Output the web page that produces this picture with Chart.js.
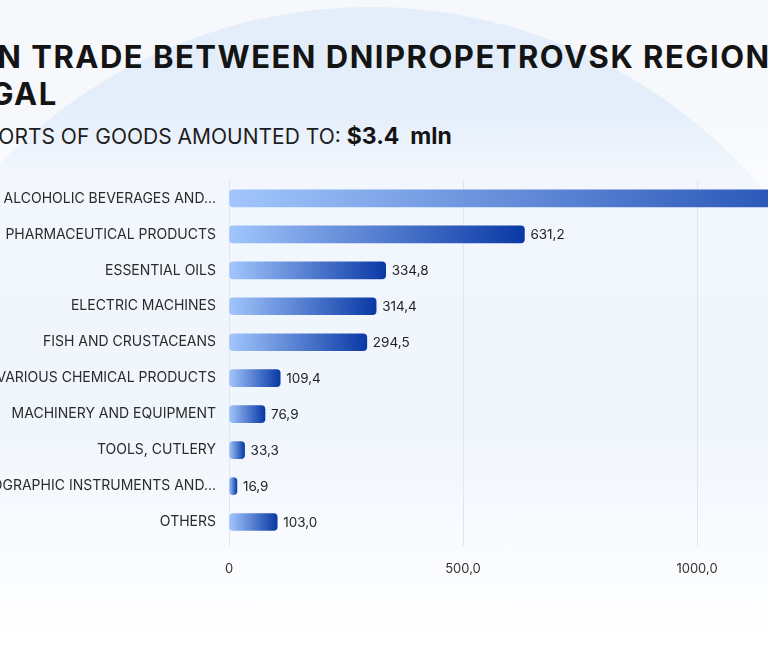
<!DOCTYPE html>
<html>
<head>
<meta charset="utf-8">
<title>Foreign trade between Dnipropetrovsk region and Portugal</title>
<script src="https://cdn.jsdelivr.net/npm/chart.js@4.4.0/dist/chart.umd.min.js"></script>
<style>
    html, body {
        margin: 0;
        padding: 0;
        width: 768px;
        height: 667px;
        overflow: hidden;
        background: #f6f8fc;
        font-family: 'Inter', 'Noto Sans', sans-serif;
    }
    .bg-circle {
        position: absolute;
        left: -145px;
        top: 7px;
        width: 1030px;
        height: 1030px;
        border-radius: 50%;
        background: #e4eefb;
    }
    .bg-fade {
        position: absolute;
        left: 0;
        top: 0;
        width: 768px;
        height: 667px;
        background: linear-gradient(to bottom,
            rgba(255, 255, 255, 0) 110px,
            rgba(255, 255, 255, 0.55) 175px,
            rgba(255, 255, 255, 0.45) 420px,
            rgba(255, 255, 255, 1) 640px);
    }
    h1 {
        position: absolute;
        left: -125px;
        top: 38px;
        margin: 0;
        font-size: 31px;
        line-height: 37px;
        letter-spacing: 1.5px;
        font-weight: 700;
        color: #141414;
        white-space: nowrap;
    }
    h1 span { display: block; }
    .sub {
        position: absolute;
        left: -42px;
        top: 123px;
        margin: 0;
        font-size: 21px;
        line-height: 1.21;
        font-weight: 400;
        color: #1e1e1e;
        white-space: pre;
    }
    .sub b { font-size: 23px; font-weight: 700; color: #141414; }
    .chart-box {
        position: absolute;
        left: -200px;
        top: 159px;
        width: 1171px;
        height: 421px;
    }
</style>
</head>
<body>
<div class="bg-circle"></div>
<div class="bg-fade"></div>
<h1><span>FOREIGN TRADE BETWEEN DNIPROPETROVSK REGION AND</span><span>PORTUGAL</span></h1>
<p class="sub">EXPORTS OF GOODS AMOUNTED TO: <b>$3.4  mln</b></p>
<div class="chart-box"><canvas id="exports"></canvas></div>

<script>
// Exports of goods, thousand USD
const categories = [
    'ALCOHOLIC BEVERAGES AND...',
    'PHARMACEUTICAL PRODUCTS',
    'ESSENTIAL OILS',
    'ELECTRIC MACHINES',
    'FISH AND CRUSTACEANS',
    'VARIOUS CHEMICAL PRODUCTS',
    'MACHINERY AND EQUIPMENT',
    'TOOLS, CUTLERY',
    'PHOTOGRAPHIC INSTRUMENTS AND...',
    'OTHERS'
];
// first value is not visible in the picture, estimated from the $3.4 mln total
const exportValues = [1485.6, 631.2, 334.8, 314.4, 294.5, 109.4, 76.9, 33.3, 16.9, 103.0];
const axisTicks = [0, 500, 1000, 1500];

const fmt = v => v === 0 ? '0' : v.toFixed(1).replace('.', ',');

// each bar gets its own light -> dark gradient along its length
function barGradient(context) {
    const chart = context.chart;
    if (!chart.chartArea || !chart.scales.x) return '#4d7fe0';
    const x0 = chart.scales.x.getPixelForValue(0);
    const x1 = chart.scales.x.getPixelForValue(context.raw);
    const g = chart.ctx.createLinearGradient(x0, 0, Math.max(x1, x0 + 1), 0);
    g.addColorStop(0, '#a2c6fc');
    g.addColorStop(1, '#0a39a6');
    return g;
}

const valueLabels = {
    id: 'valueLabels',
    afterDatasetsDraw(chart) {
        const ctx = chart.ctx;
        const meta = chart.getDatasetMeta(0);
        ctx.save();
        ctx.font = "13.5px 'Inter', sans-serif";
        ctx.fillStyle = '#1f1f1f';
        ctx.textBaseline = 'middle';
        ctx.textAlign = 'left';
        meta.data.forEach((bar, i) => {
            ctx.fillText(fmt(exportValues[i]), bar.x + 6, bar.y + 1);
        });
        ctx.restore();
    }
};

new Chart(document.getElementById('exports'), {
    type: 'bar',
    data: {
        labels: categories,
        datasets: [{
            data: exportValues,
            backgroundColor: barGradient,
            borderRadius: 4,
            borderSkipped: false,
            barThickness: 17
        }]
    },
    options: {
        indexAxis: 'y',
        responsive: true,
        maintainAspectRatio: false,
        animation: false,
        layout: { padding: { top: 9, right: 40, bottom: 0, left: 0 } },
        plugins: {
            legend: { display: false },
            tooltip: { enabled: false }
        },
        scales: {
            x: {
                min: axisTicks[0],
                max: axisTicks[axisTicks.length - 1],
                afterBuildTicks: scale => {
                    scale.ticks = axisTicks.map(v => ({ value: v }));
                },
                afterFit: scale => { scale.height = 40; },
                grid: {
                    color: '#e1e6ee',
                    lineWidth: 1,
                    drawTicks: true,
                    tickLength: 6
                },
                border: { display: false },
                ticks: {
                    padding: 15,
                    color: '#333333',
                    font: { size: 13, family: "'Inter', sans-serif" },
                    callback: v => fmt(v)
                }
            },
            y: {
                afterFit: scale => { scale.width = 429; },
                grid: { display: false, drawTicks: false },
                border: { display: false },
                ticks: {
                    padding: 13,
                    color: '#2b2b2b',
                    font: { size: 14, family: "'Inter', sans-serif" }
                }
            }
        }
    },
    plugins: [valueLabels]
});
</script>
</body>
</html>
